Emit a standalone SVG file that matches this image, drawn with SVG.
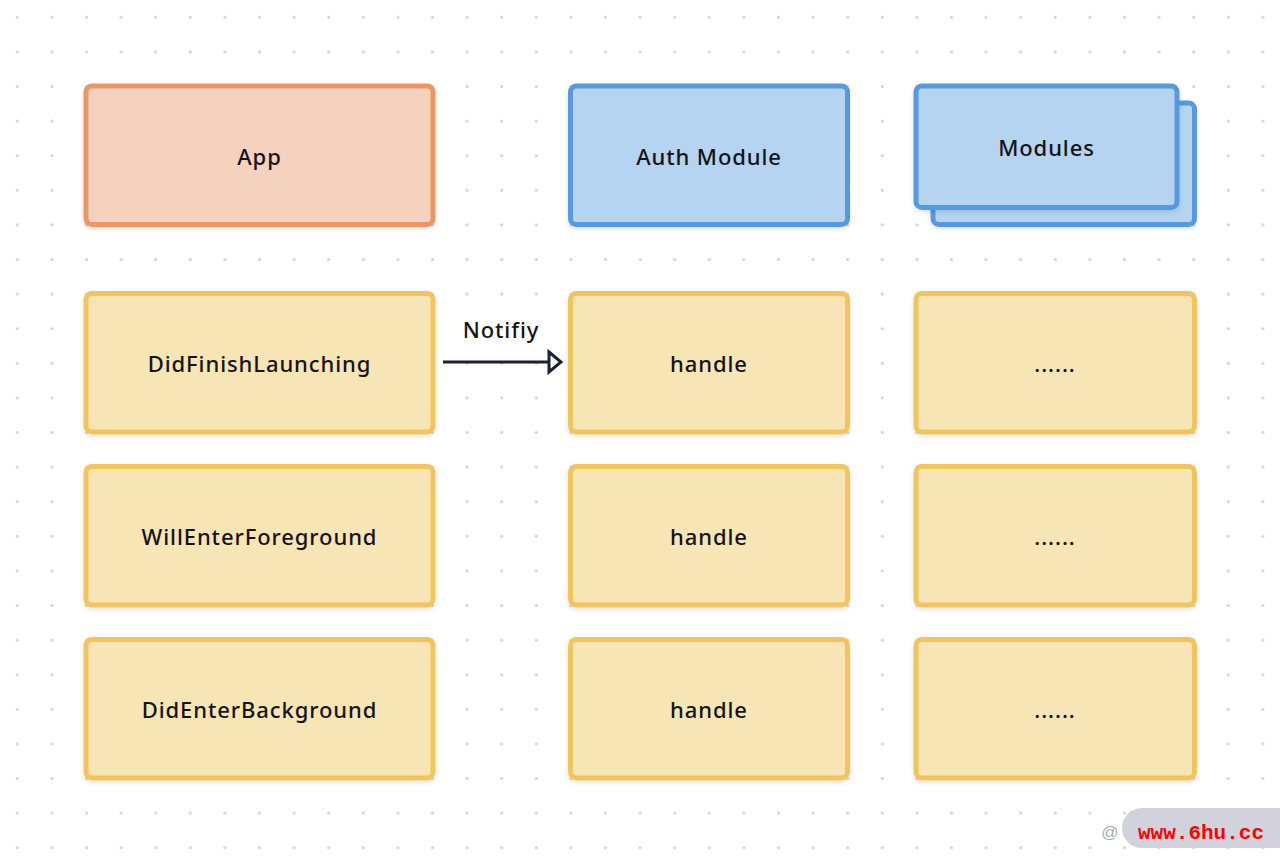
<svg xmlns="http://www.w3.org/2000/svg" width="1280" height="864" viewBox="0 0 1280 864">
  <defs>
    <pattern id="dots" x="0" y="0" width="34.6" height="34.6" patternUnits="userSpaceOnUse">
      <circle cx="17.3" cy="17.3" r="1.6" fill="#d4d4d4"/>
    </pattern>
    <filter id="sh" x="-10%" y="-10%" width="120%" height="130%">
      <feDropShadow dx="0" dy="2" stdDeviation="2.5" flood-color="#000" flood-opacity="0.12"/>
    </filter>
    <marker id="arr" viewBox="0 0 16 26" refX="14" refY="13" markerWidth="16" markerHeight="26" markerUnits="userSpaceOnUse" orient="auto">
      <path d="M2,3 L14,13 L2,23 Z" fill="#ffffff" stroke="#1c2033" stroke-width="3" stroke-linejoin="miter"/>
    </marker>
    <style>
      .box { stroke-width: 5; filter: url(#sh); }
      .orange { fill: #f5d2bd; stroke: #ee9562; }
      .blue { fill: #b5d4f1; stroke: #5499de; }
      .yellow { fill: #f8e5b6; stroke: #f2c55c; }
      .lbl { font-family: "Noto Sans", "Open Sans", sans-serif; font-size: 22px; font-weight: 500; fill: #141414; text-anchor: middle; dominant-baseline: central; letter-spacing: 0.9px; }
    </style>
  </defs>
  <rect width="1280" height="864" fill="#ffffff"/>
  <rect width="1280" height="864" fill="url(#dots)"/>

  <g id="app">
    <rect class="box orange" x="86" y="86" width="347" height="138.5" rx="6"/>
    <text class="lbl" x="259.5" y="156">App</text>
  </g>
  <g id="auth-module">
    <rect class="box blue" x="570.5" y="86" width="277" height="138.5" rx="6"/>
    <text class="lbl" x="709" y="156">Auth Module</text>
  </g>
  <g id="modules">
    <rect class="box blue" x="933" y="103" width="261.5" height="121.5" rx="6"/>
    <rect class="box blue" x="916" y="86" width="261" height="121.5" rx="6"/>
    <text class="lbl" x="1046.5" y="147">Modules</text>
  </g>

  <g id="did-finish-launching">
    <rect class="box yellow" x="86" y="293.5" width="347" height="138.5" rx="6"/>
    <text class="lbl" x="259.5" y="363">DidFinishLaunching</text>
  </g>
  <g id="handle-1">
    <rect class="box yellow" x="570.5" y="293.5" width="277" height="138.5" rx="6"/>
    <text class="lbl" x="709" y="363">handle</text>
  </g>
  <g id="etc-1">
    <rect class="box yellow" x="916" y="293.5" width="278.5" height="138.5" rx="6"/>
    <text class="lbl" x="1055" y="363">......</text>
  </g>

  <g id="will-enter-foreground">
    <rect class="box yellow" x="86" y="466.5" width="347" height="138.5" rx="6"/>
    <text class="lbl" x="259.5" y="536">WillEnterForeground</text>
  </g>
  <g id="handle-2">
    <rect class="box yellow" x="570.5" y="466.5" width="277" height="138.5" rx="6"/>
    <text class="lbl" x="709" y="536">handle</text>
  </g>
  <g id="etc-2">
    <rect class="box yellow" x="916" y="466.5" width="278.5" height="138.5" rx="6"/>
    <text class="lbl" x="1055" y="536">......</text>
  </g>

  <g id="did-enter-background">
    <rect class="box yellow" x="86" y="639.5" width="347" height="138.5" rx="6"/>
    <text class="lbl" x="259.5" y="709">DidEnterBackground</text>
  </g>
  <g id="handle-3">
    <rect class="box yellow" x="570.5" y="639.5" width="277" height="138.5" rx="6"/>
    <text class="lbl" x="709" y="709">handle</text>
  </g>
  <g id="etc-3">
    <rect class="box yellow" x="916" y="639.5" width="278.5" height="138.5" rx="6"/>
    <text class="lbl" x="1055" y="709">......</text>
  </g>

  <g id="connectors">
    <line x1="443" y1="362" x2="561" y2="362" stroke="#1c2033" stroke-width="3" marker-end="url(#arr)"/>
    <text class="lbl" x="501" y="329">Notifiy</text>
  </g>

  <g id="watermark">
    <text x="1110" y="838" font-family="Liberation Sans, sans-serif" font-size="17" fill="#aaaaaa" text-anchor="middle">@</text>
    <rect x="1122" y="808" width="180" height="40" rx="20" fill="#d2d2dc"/>
    <text x="1201" y="839" font-family="Liberation Mono, monospace" font-size="21" font-weight="bold" fill="#ff0000" text-anchor="middle">www.6hu.cc</text>
  </g>
</svg>
